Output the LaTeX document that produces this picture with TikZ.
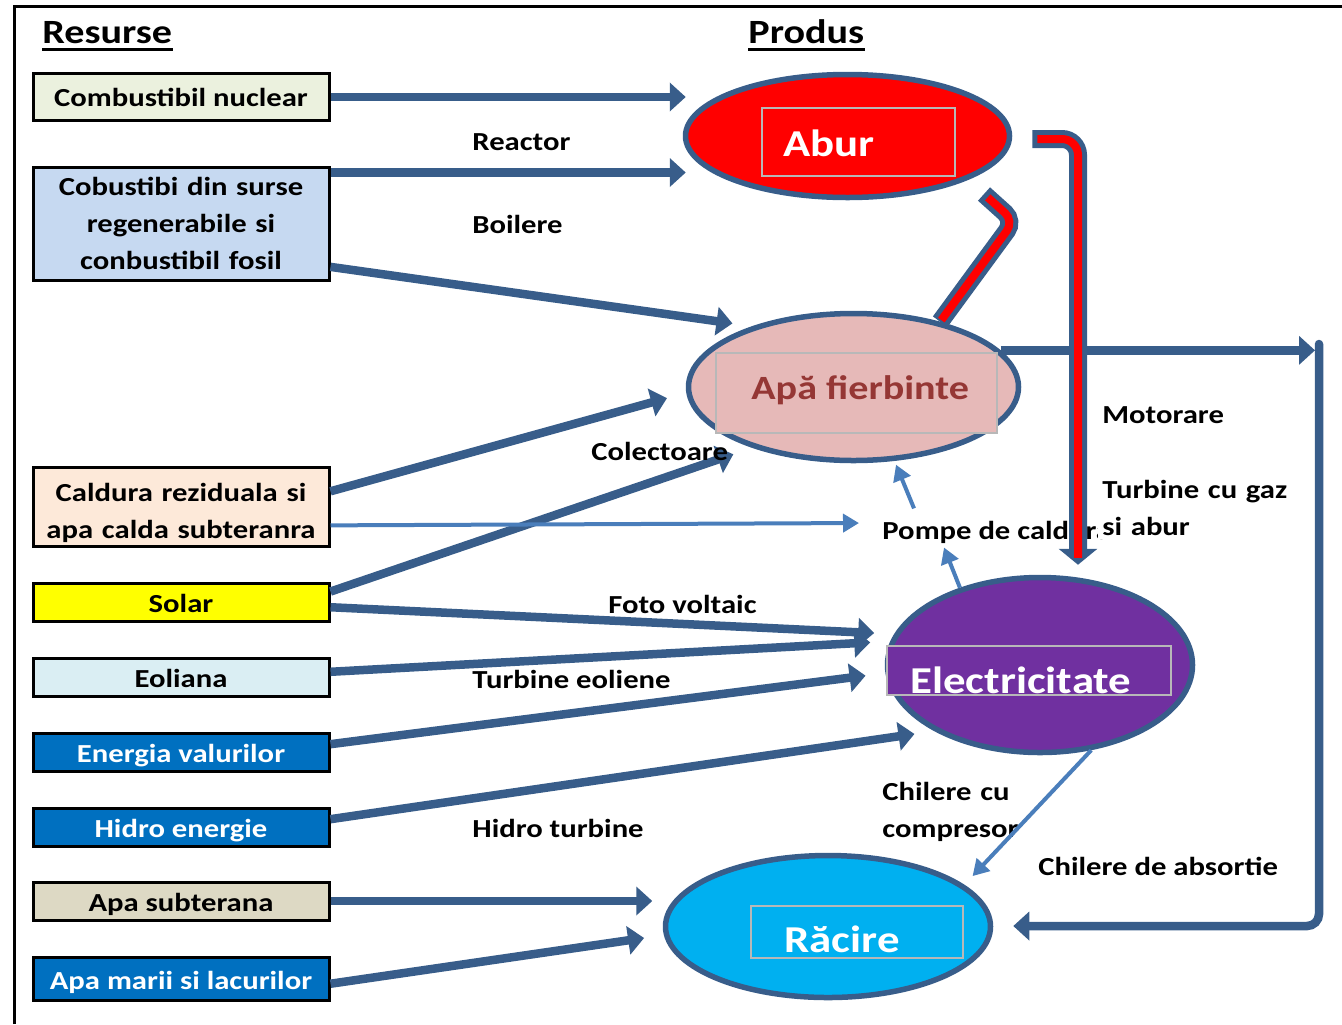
\documentclass[tikz,border=0pt]{standalone}
\usepackage{fontspec}
\setmainfont{Carlito}[FakeStretch=1.18]
\usepackage{tikz}
\usetikzlibrary{shapes.geometric, arrows.meta, positioning, calc}
\definecolor{albastruFlux}{HTML}{385D8A}
\definecolor{albastruSubtire}{HTML}{4A7EBB}
\definecolor{griCadru}{HTML}{B8B8B8}
\definecolor{verdePal}{HTML}{EBF1DE}
\definecolor{albastruPal}{HTML}{C6D9F1}
\definecolor{piersica}{HTML}{FDE9D9}
\definecolor{galben}{HTML}{FFFF00}
\definecolor{cerPal}{HTML}{DAEEF3}
\definecolor{albastruInchis}{HTML}{0070C0}
\definecolor{bej}{HTML}{DDD9C4}
\definecolor{rosuAbur}{HTML}{FF0000}
\definecolor{rozApa}{HTML}{E6B9B8}
\definecolor{textApa}{HTML}{953735}
\definecolor{violet}{HTML}{7030A0}
\definecolor{cyanRacire}{HTML}{00B0F0}

\begin{document}
\begin{tikzpicture}[x=0.5pt, y=-0.5pt,
        sursa/.style={draw=black, line width=1.5pt, minimum width=148pt, minimum height=19pt,
            inner sep=0pt, align=center, text height=10.5pt, text depth=0pt,
            font=\fontsize{13}{18.5}\selectfont\bfseries},
        sursaMulti/.style={sursa, text width=148pt, text height=10pt},
        prod/.style={ellipse, draw=albastruFlux, line width=2.75pt, inner sep=0pt},
        cadru/.style={draw=griCadru, line width=1pt, inner sep=0pt},
        eticheta/.style={anchor=base west, inner sep=0pt, font=\fontsize{13}{18.5}\selectfont\bfseries},
        titlu/.style={anchor=base west, inner sep=0pt, font=\fontsize{19}{22}\selectfont\bfseries, text=white},
        antet/.style={anchor=base west, inner sep=0pt, font=\fontsize{17}{20}\selectfont\bfseries},
        flux/.style={draw=albastruFlux, line width=4.25pt, -{Triangle[length=8pt,width=14pt]}, shorten >=10pt},
        fluxSubtire/.style={draw=albastruSubtire, line width=2pt, -{Triangle[length=8pt,width=9pt]}},
        teava/.style={draw=albastruFlux, line width=9pt, rounded corners=8pt},
        miez/.style={draw=rosuAbur, line width=4pt, rounded corners=8pt}
    ]
        \useasboundingbox (0,0) rectangle (1342,1024);
        \draw[line width=1.5pt] (14.5,1024) -- (14.5,6) -- (1342,6);

        \node[antet] (resurse) at (42,43) {Resurse};
        \node[antet] (produs) at (748,43) {Produs};
        \draw[line width=1.5pt] ([yshift=-3pt]resurse.south west) -- ([yshift=-3pt]resurse.south east);
        \draw[line width=1.5pt] ([yshift=-3pt]produs.south west) -- ([yshift=-3pt]produs.south east);

        \node[sursa, fill=verdePal, minimum height=23.5pt, text height=9.5pt] (comb) at (181,97) {Combustibil nuclear};
        \node[sursaMulti, fill=albastruPal, minimum height=56.5pt, text depth=39pt] (cob) at (181,224) {Cobustibi din surse\\regenerabile si\\conbustibil fosil};
        \node[sursaMulti, fill=piersica, minimum height=39.5pt, text depth=16pt] (cal) at (181,507) {Caldura reziduala si\\apa calda subteranra};
        \node[sursa, fill=galben] (solar) at (181,602) {Solar};
        \node[sursa, fill=cerPal] (eol) at (181,677) {Eoliana};
        \node[sursa, fill=albastruInchis, text=white] (en) at (181,752) {Energia valurilor};
        \node[sursa, fill=albastruInchis, text=white] (hid) at (181,827) {Hidro energie};
        \node[sursa, fill=bej] (sub) at (181,901) {Apa subterana};
        \node[sursa, fill=albastruInchis, text=white, minimum height=21.5pt] (mar) at (181,978.5) {Apa marii si lacurilor};

        \node[prod, fill=rosuAbur, minimum width=162pt, minimum height=61.5pt] (abur) at (847.5,136) {};
        \node[prod, fill=rozApa, minimum width=165pt, minimum height=73.5pt] (apa) at (853.5,387) {};
        \node[prod, fill=violet, minimum width=152.5pt, minimum height=87.5pt] (elec) at (1040,665) {};
        \node[prod, fill=cyanRacire, minimum width=162.5pt, minimum height=71pt] (racire) at (828,926.5) {};

        \node[cadru, fill=rosuAbur, minimum width=96.5pt, minimum height=34pt] (aburCadru) at (858.5,142) {};
        \node[cadru, fill=rozApa, minimum width=140.5pt, minimum height=40pt] (apaCadru) at (856.5,393) {};
        \node[cadru, fill=violet, minimum width=142pt, minimum height=24.5pt] (elecCadru) at (1029,670.5) {};
        \node[cadru, fill=cyanRacire, minimum width=106pt, minimum height=26pt] (racireCadru) at (857,932) {};

        \node[titlu] (aburTxt) at (783,156) {Abur};
        \node[titlu, text=textApa, font=\fontsize{17}{20}\selectfont\bfseries] (apaTxt) at (751,399) {Apă fierbinte};
        \node[titlu] (elecTxt) at (910,693) {Electricitate};
        \node[titlu] (racireTxt) at (784,952) {Răcire};

        \draw[flux] (comb.east) -- (comb.east -| abur.167);
        \draw[flux] (cob.19) -- (cob.19 -| abur.193);
        \draw[flux] (cob.-16) -- (apa.149);
        \draw[flux] (cal.6) -- (apa.182);
        \draw[flux] (solar.4) -- (apa.211);
        \draw[flux] (solar.-2) -- (elec.168);
        \draw[flux] (eol.2) -- (elec.171);
        \draw[flux] (en.3) -- (elec.183);
        \draw[flux] (hid.3) -- (elec.212);
        \draw[flux] (sub.east) -- (sub.east -| racire.171);
        \draw[flux] (mar.-2) -- (racire.183);

        \node[eticheta] (reactor) at (472,150) {Reactor};
        \node[eticheta] (boilere) at (472,233) {Boilere};
        \node[eticheta] (colect) at (591,460) {Colectoare};
        \node[eticheta] (motor) at (1102,423) {Motorare};
        \node[eticheta] (foto) at (608,613) {Foto voltaic};
        \node[eticheta] (eoliene) at (472,688) {Turbine eoliene};
        \node[eticheta] (hidroT) at (472,837) {Hidro turbine};
        \node[eticheta, text width=80pt, align=left] (chilComp) at (882,800) {Chilere cu\\compresor};
        \node[eticheta] (chilAbs) at (1038,875) {Chilere de absortie};

        \coordinate (dreaptaSus) at (1319,351);
        \coordinate (dreaptaJos) at (1319,926);
        \draw[flux, shorten >=2pt] (apa.14) -- (apa.14 -| dreaptaSus);
        \draw[flux, rounded corners=6pt, line cap=round] ([yshift=3.5pt]dreaptaSus) -- (dreaptaJos) -- (dreaptaJos -| racire.east);

        \node[eticheta] (pompe) at (882,539) {Pompe de caldura};
        \draw[fluxSubtire, shorten >=11.5pt] (cal.-7) -- ([yshift=4.5pt]pompe.west);
        \draw[fluxSubtire, shorten >=2pt] ([shift={(16pt,6pt)}]pompe.north west) -- (apa.-61);
        \draw[fluxSubtire] (elec.136) -- ([shift={(31pt,-2pt)}]pompe.south west);
        \draw[fluxSubtire, shorten >=6pt] (elec.-59) -- (racire.17);

        \coordinate (cotAbur) at (1078,139);
        \coordinate (cotApa) at (1014,221);
        \coordinate (capAbur) at (984,194);
        \draw[teava, rounded corners=6pt] (apa.37) -- (cotApa) -- (capAbur);
        \draw[miez, rounded corners=6pt, shorten <=1pt, shorten >=2.5pt] (apa.37) -- (cotApa) -- (capAbur);
        \draw[teava, -{Triangle[length=8pt,width=19pt]}] ([xshift=10pt]abur.east |- cotAbur) -- (cotAbur) -- ($(cotAbur |- elec.north)+(0,-10)$);
        \draw[miez, shorten <=2.5pt, shorten >=3.5pt] ([xshift=10pt]abur.east |- cotAbur) -- (cotAbur) -- ($(cotAbur |- elec.north)+(0,-10)$);

        \node[eticheta, fill=white, inner sep=2pt, text width=94pt, align=left] (turbine) at (1098,498) {Turbine cu gaz\\si abur};
    \end{tikzpicture}
\end{document}
